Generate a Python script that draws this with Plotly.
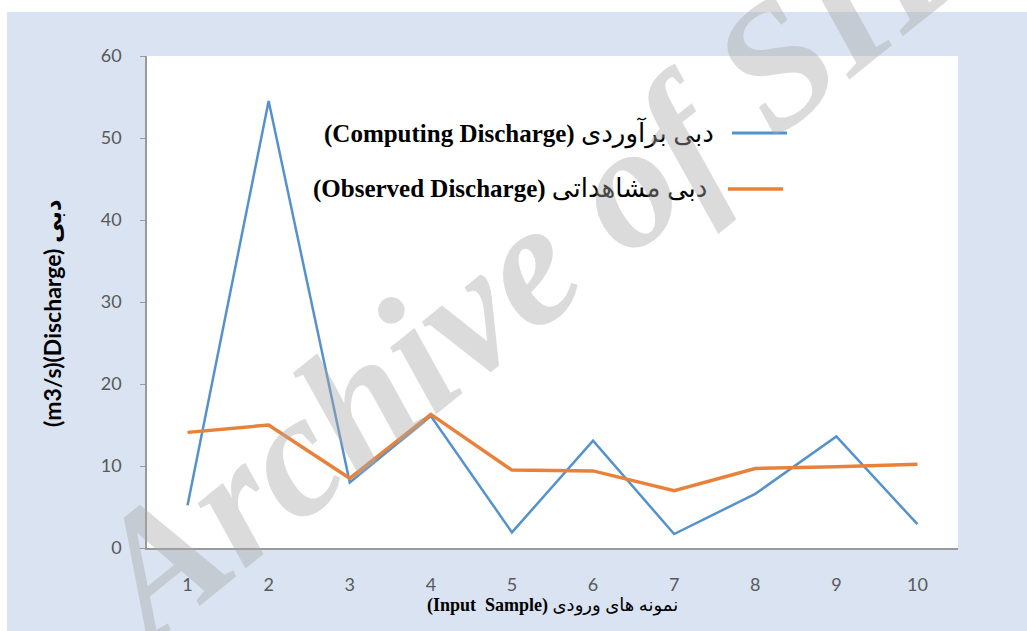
import plotly.graph_objects as go

samples = [1, 2, 3, 4, 5, 6, 7, 8, 9, 10]
computed = [5.2, 54.5, 8.0, 16.1, 1.9, 13.1, 1.7, 6.6, 13.6, 2.9]
observed = [14.1, 15.0, 8.5, 16.3, 9.5, 9.4, 7.0, 9.7, 9.9, 10.2]
y_ticks = [0, 10, 20, 30, 40, 50, 60]

comp_en, comp_fa = "(Computing Discharge)", "دبی برآوردی"
obs_en, obs_fa = "(Observed Discharge)", "دبی مشاهداتی"
xt_en, xt_fa = "(Input&nbsp;&nbsp;Sample)", "نمونه های ورودی"
yt_en, yt_fa = "(m3/s)(Discharge)", "دبی"

BLUE = "#5592cc"
ORANGE = "#e8823a"
BG = "#dae3f1"

fig = go.Figure()
fig.add_trace(go.Scatter(x=samples, y=computed, mode="lines",
                         name=comp_en + " " + comp_fa,
                         line=dict(color=BLUE, width=2.5)))
fig.add_trace(go.Scatter(x=samples, y=observed, mode="lines",
                         name=obs_en + " " + obs_fa,
                         line=dict(color=ORANGE, width=3.5)))

W, H = 1027, 631
L, R, T, B = 147, 69, 56, 83
pw, ph = W - L - R, H - T - B

def px(x):
    return (x - L) / pw

def py(y):
    return (H - B - y) / ph

tick_font = dict(family="Lato, Open Sans, sans-serif", size=18, color="#595959")
serif = "Liberation Serif, DejaVu Sans, serif"

fig.update_layout(
    width=W, height=H,
    showlegend=False,
    paper_bgcolor=BG,
    plot_bgcolor="white",
    margin=dict(l=L, r=R, t=T, b=B),
    xaxis=dict(range=[0.5, 10.5], tickvals=samples, ticktext=[str(s) for s in samples],
               showgrid=False, zeroline=False, showline=True, linecolor="#9a9a9a",
               linewidth=1.5, ticks="", tickfont=tick_font, ticklabelstandoff=20,
               fixedrange=True),
    yaxis=dict(range=[0, 60], tickvals=y_ticks, showgrid=False, zeroline=False,
               showline=True, linecolor="#9a9a9a", linewidth=1.5, ticks="outside",
               ticklen=5, tickcolor="#9a9a9a", tickfont=tick_font,
               ticklabelstandoff=15, fixedrange=True),
)

shapes = [
    # white strips at top and left of the page
    dict(type="rect", xref="paper", yref="paper", x0=px(-5), x1=px(W + 5),
         y0=py(12), y1=py(-5), fillcolor="white", line_width=0, layer="below"),
    dict(type="rect", xref="paper", yref="paper", x0=px(-5), x1=px(7),
         y0=py(H + 5), y1=py(-5), fillcolor="white", line_width=0, layer="below"),
    # legend samples
    dict(type="line", xref="paper", yref="paper", x0=px(732), x1=px(787),
         y0=py(133), y1=py(133), line=dict(color=BLUE, width=3)),
    dict(type="line", xref="paper", yref="paper", x0=px(728), x1=px(783),
         y0=py(189), y1=py(189), line=dict(color=ORANGE, width=3.5)),
]
fig.update_layout(shapes=shapes)

def mixed(en, fa, fa_size):
    return ("<b>" + en + "</b> <span style=\"font-size:%dpx\">" % fa_size + fa + "</span>")

annotations = [
    dict(text=mixed(comp_en, comp_fa, 26), xref="paper", yref="paper",
         x=px(716), y=py(133), xanchor="right", yanchor="middle", showarrow=False,
         font=dict(family=serif, size=25, color="black")),
    dict(text=mixed(obs_en, obs_fa, 26), xref="paper", yref="paper",
         x=px(709), y=py(188), xanchor="right", yanchor="middle", showarrow=False,
         font=dict(family=serif, size=25, color="black")),
    dict(text=mixed(xt_en, xt_fa, 18), xref="paper", yref="paper",
         x=px(552), y=py(605), xanchor="center", yanchor="middle", showarrow=False,
         font=dict(family=serif, size=18, color="black")),
    dict(text="<b>" + yt_en + " " + yt_fa + "</b>", xref="paper", yref="paper",
         x=px(52), y=py(313), xanchor="center", yanchor="middle", showarrow=False,
         textangle=-90, font=dict(family="Lato, Open Sans, DejaVu Sans, sans-serif",
                                  size=23, color="black")),
    # watermark
    dict(text="<b><i>Archive of SID</i></b>", xref="paper", yref="paper",
         x=px(535), y=py(257), xanchor="center", yanchor="middle", showarrow=False,
         textangle=-39, font=dict(family=serif, size=176, color="rgba(170,170,170,0.42)")),
]
fig.update_layout(annotations=annotations)

fig.write_html("out.html", config={"displayModeBar": False},
               post_script="document.body.style.margin='0';document.body.style.overflow='hidden';")
